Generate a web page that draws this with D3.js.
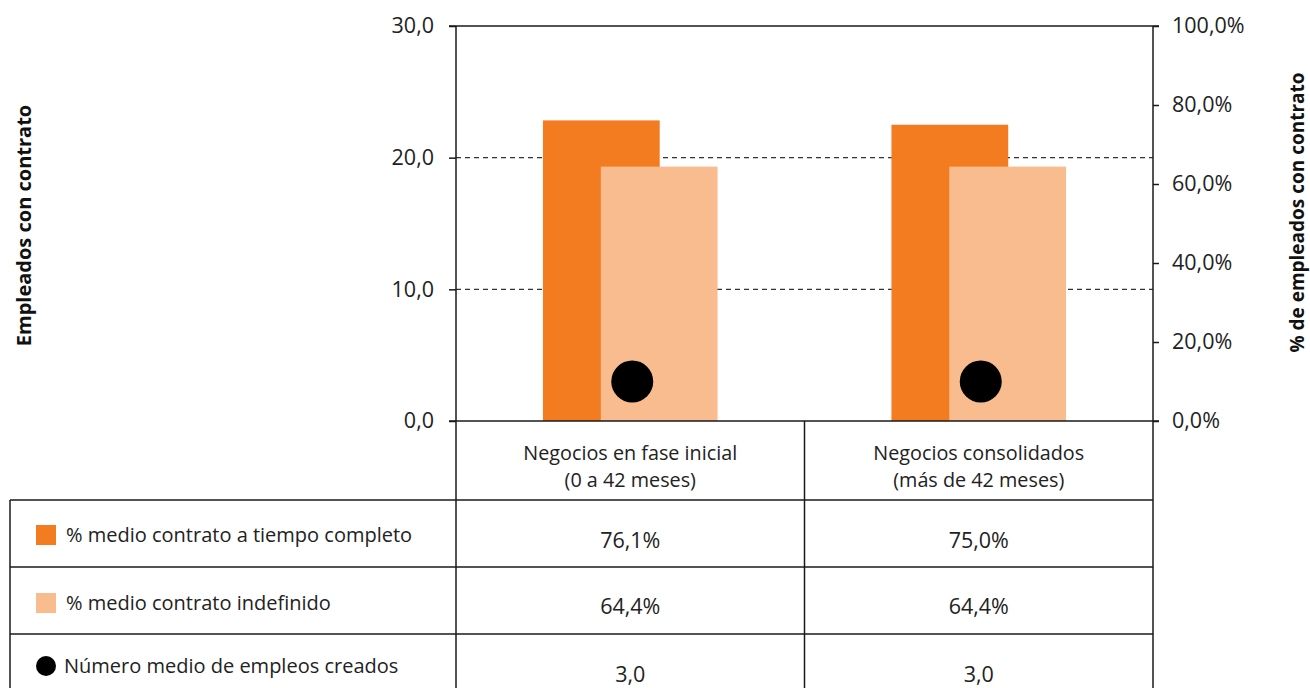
<!DOCTYPE html>
<html><head><meta charset="utf-8">
<script src="https://cdn.jsdelivr.net/npm/d3@7"></script>
<style>
html,body{margin:0;padding:0;background:#fff;}
svg{display:block;font-family:"Open Sans","Noto Sans",sans-serif;}
</style></head>
<body><svg id="c" width="1310" height="688"></svg>
<script>
const categories = ["Negocios en fase inicial|(0 a 42 meses)", "Negocios consolidados|(más de 42 meses)"];
const fullTime = [76.1, 75.0];
const indefinite = [64.4, 64.4];
const jobs = [3.0, 3.0];
const leftTicks = [0, 10, 20, 30];
const rightTicks = [0, 20, 40, 60, 80, 100];
const gridTicks = [10, 20];
const legendLabels = ["% medio contrato a tiempo completo", "% medio contrato indefinido", "Número medio de empleos creados"];
const tableValues = [fullTime.map(v => d3.format(".1f")(v).replace(".", ",") + "%"),
                     indefinite.map(v => d3.format(".1f")(v).replace(".", ",") + "%"),
                     jobs.map(v => d3.format(".1f")(v).replace(".", ","))];

const C_DARK = "#f37b20", C_LIGHT = "#f8bc8f", LINE = "#1a1a1a", TXT = "#222";
const svg = d3.select("#c");
const x0 = 456, x1 = 1153, yTop = 26, yBot = 421;

const x = d3.scaleBand().domain(categories).range([x0, x1]).padding(0);
const yL = d3.scaleLinear().domain([0, 30]).range([yBot, yTop]);
const yR = d3.scaleLinear().domain([0, 100]).range([yBot, yTop]);
const fmt1 = v => d3.format(".1f")(v).replace(".", ",");

// gridlines
svg.append("g").selectAll("line").data(gridTicks).join("line")
  .attr("x1", x0).attr("x2", x1).attr("y1", d => yL(d)).attr("y2", d => yL(d))
  .attr("stroke", "#333").attr("stroke-width", 1.2).attr("stroke-dasharray", "5,4");

// bars
const bw = x.bandwidth() * 0.335;
const off = x.bandwidth() * 0.083;
svg.append("g").selectAll("rect").data(categories).join("rect")
  .attr("x", (d) => x(d) + x.bandwidth() / 2 - off - bw / 2)
  .attr("y", (d, i) => yR(fullTime[i])).attr("width", bw)
  .attr("height", (d, i) => yBot - yR(fullTime[i])).attr("fill", C_DARK);
svg.append("g").selectAll("rect").data(categories).join("rect")
  .attr("x", (d) => x(d) + x.bandwidth() / 2 + off - bw / 2)
  .attr("y", (d, i) => yR(indefinite[i])).attr("width", bw)
  .attr("height", (d, i) => yBot - yR(indefinite[i])).attr("fill", C_LIGHT);
svg.append("g").selectAll("circle").data(categories).join("circle")
  .attr("cx", d => x(d) + x.bandwidth() / 2 + 2)
  .attr("cy", (d, i) => yL(jobs[i])).attr("r", 21).attr("fill", "#000");

// axes
const gl = svg.append("g").attr("transform", `translate(${x0},0)`)
  .call(d3.axisLeft(yL).tickValues(leftTicks).tickFormat(fmt1).tickSize(7).tickPadding(15));
const gr = svg.append("g").attr("transform", `translate(${x1},0)`)
  .call(d3.axisRight(yR).tickValues(rightTicks).tickFormat(d => fmt1(d) + "%").tickSize(6).tickPadding(13));
[gl, gr].forEach(g => {
  g.select(".domain").remove();
  g.selectAll("line").attr("stroke", LINE).attr("stroke-width", 1.5);
  g.selectAll("text").attr("font-size", 21.5).attr("fill", TXT).attr("font-family", "Open Sans");
});

// frame lines
const lines = [
  [449, yTop, 1159, yTop], [449, yBot, 1159, yBot],
  [x0, yTop, x0, 688], [x1, yTop, x1, 688],
  [x.range()[0] + x.bandwidth(), yBot, x.range()[0] + x.bandwidth(), 688],
  [10, 500, x1, 500], [10, 567, x1, 567], [10, 634, x1, 634], [10, 500, 10, 688]
];
svg.append("g").selectAll("line").data(lines).join("line")
  .attr("x1", d => d[0]).attr("y1", d => d[1]).attr("x2", d => d[2]).attr("y2", d => d[3])
  .attr("stroke", LINE).attr("stroke-width", 1.5);

// category headers
const hdr = svg.append("g").selectAll("text").data(categories).join("text")
  .attr("x", d => x(d) + x.bandwidth() / 2).attr("text-anchor", "middle")
  .attr("font-size", 19.8).attr("fill", TXT);
hdr.selectAll("tspan").data(d => d.split("|")).join("tspan")
  .attr("x", function () { return d3.select(this.parentNode).attr("x"); })
  .attr("y", (d, i) => 460 + i * 27).text(d => d);

// legend rows
const rowMid = [535, 603, 666];
const lg = svg.append("g");
lg.append("rect").attr("x", 36).attr("y", rowMid[0] - 10).attr("width", 20).attr("height", 20).attr("fill", C_DARK);
lg.append("rect").attr("x", 36).attr("y", rowMid[1] - 10).attr("width", 20).attr("height", 20).attr("fill", C_LIGHT);
lg.append("circle").attr("cx", 46).attr("cy", rowMid[2]).attr("r", 10).attr("fill", "#000");
lg.selectAll("text").data(legendLabels).join("text")
  .attr("x", (d, i) => i === 2 ? 64 : 66).attr("y", (d, i) => rowMid[i]).attr("dy", "0.35em")
  .attr("font-size", 20).attr("fill", TXT).text(d => d);

// table values
const valY = [540, 606, 674];
tableValues.forEach((row, r) => {
  svg.append("g").selectAll("text").data(row).join("text")
    .attr("x", (d, i) => x(categories[i]) + x.bandwidth() / 2).attr("y", valY[r]).attr("dy", "0.35em")
    .attr("text-anchor", "middle").attr("font-size", 21.5).attr("fill", TXT).text(d => d);
});

// axis titles
svg.append("text").attr("transform", `translate(31,${(103 + 348) / 2}) rotate(-90)`)
  .attr("text-anchor", "middle").attr("font-size", 20).attr("font-weight", "bold").attr("fill", "#111")
  .text("Empleados con contrato");
svg.append("text").attr("transform", `translate(1304,${(75 + 350) / 2}) rotate(-90)`)
  .attr("text-anchor", "middle").attr("font-size", 19).attr("font-weight", "bold").attr("fill", "#111")
  .text("% de empleados con contrato");
</script></body></html>
